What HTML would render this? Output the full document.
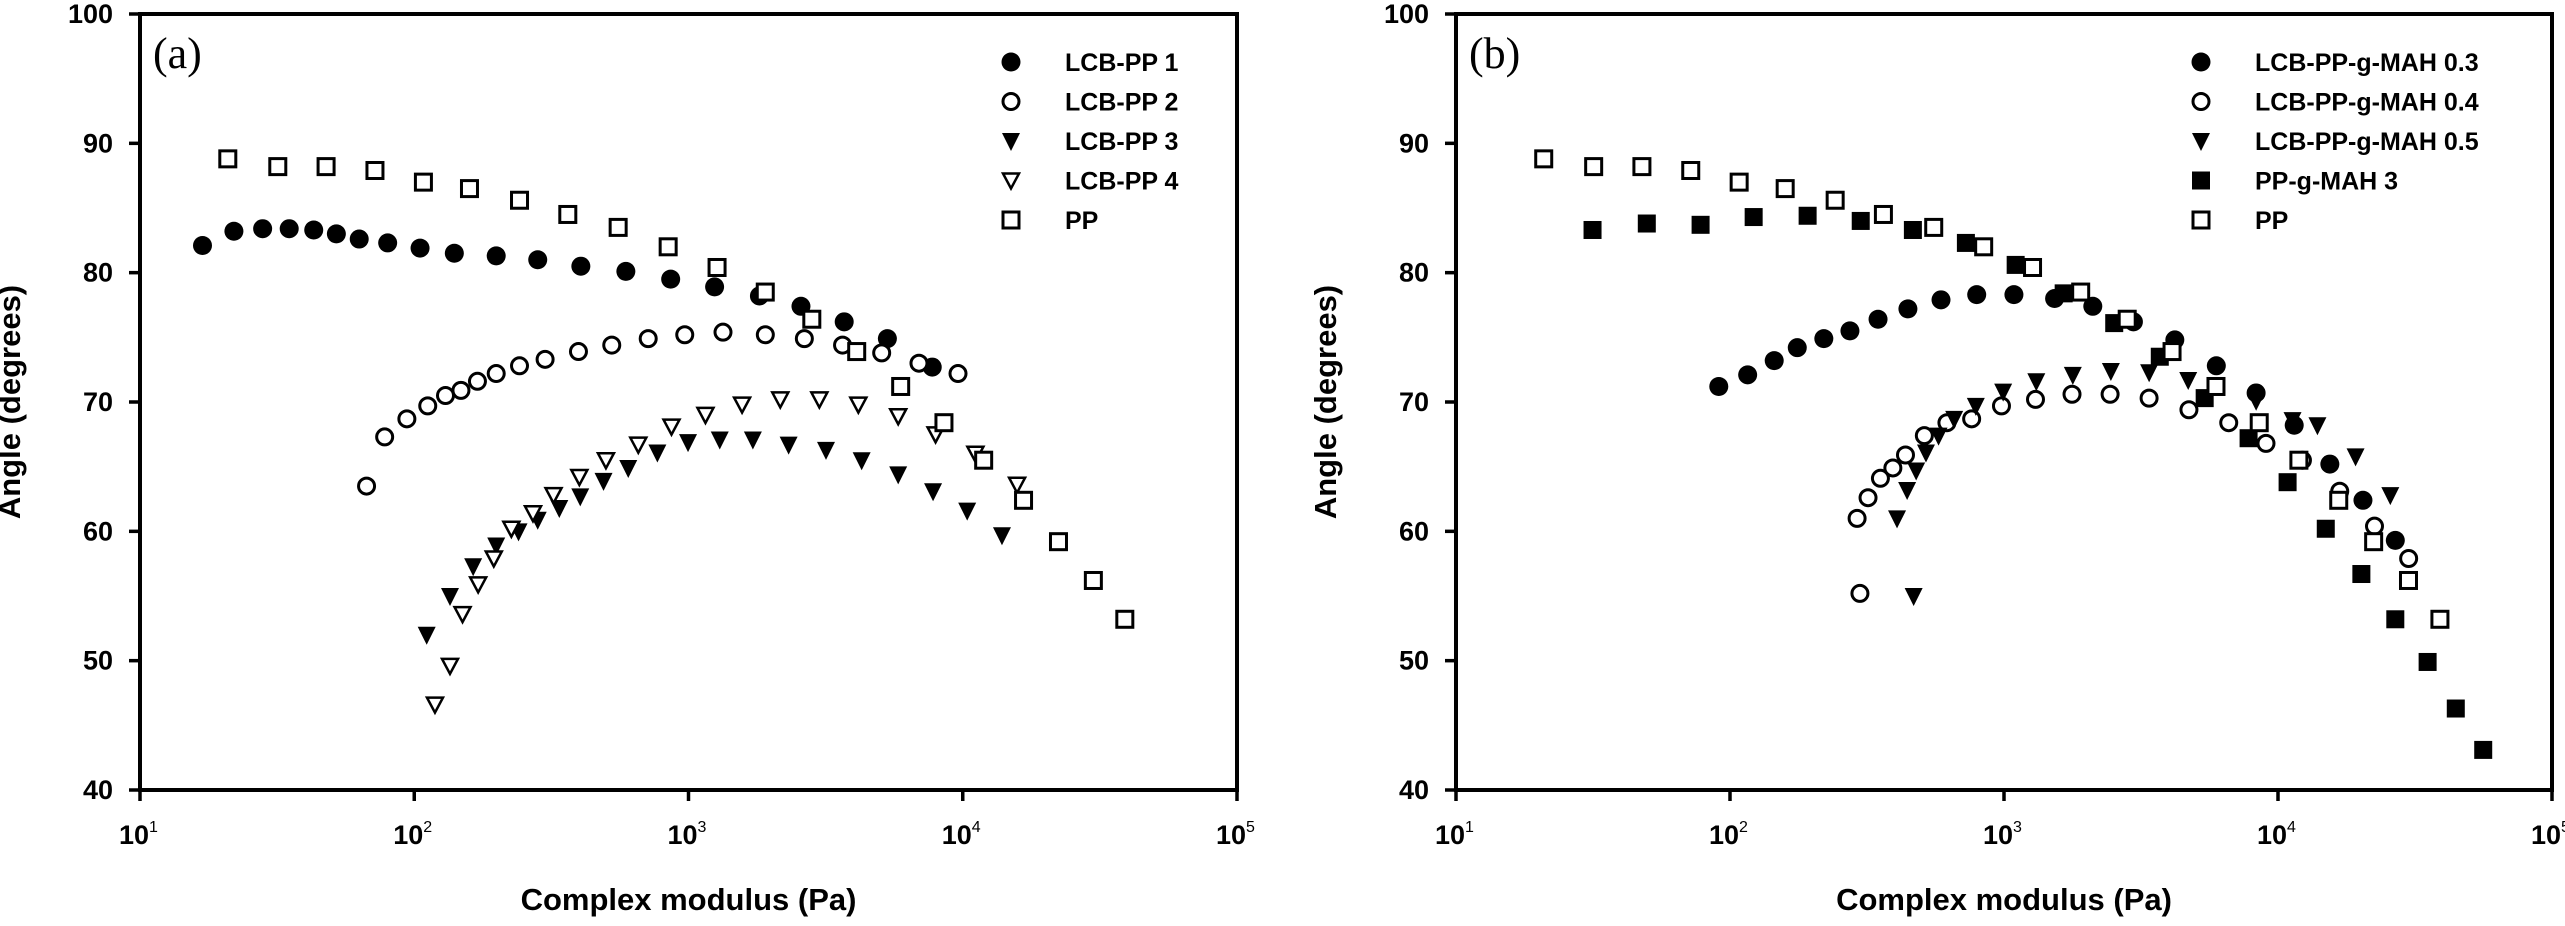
<!DOCTYPE html>
<html><head><meta charset="utf-8"><style>
html,body{margin:0;padding:0;background:#fff}
svg{display:block}
text{font-family:"Liberation Sans",Arial,sans-serif;font-weight:bold;fill:#000}
</style></head><body>
<svg id="fig" width="2565" height="926" viewBox="0 0 2565 926" xmlns="http://www.w3.org/2000/svg"></svg>
<script>
// ---- data (Pa, degrees) ----
const lcb1X=[16.9,22,28,35,43,52,63,80,105,140,199,282,405,591,861,1245,1814,2571,3696,5311,7740];
const lcb1Y=[82.1,83.2,83.4,83.4,83.3,83.0,82.6,82.3,81.9,81.5,81.3,81.0,80.5,80.1,79.5,78.9,78.2,77.4,76.2,74.9,72.7];
const lcb2X=[67,78,94,112,130,148,170,199,242,300,397,525,713,969,1336,1906,2645,3645,5063,6925,9610];
const lcb2Y=[63.5,67.3,68.7,69.7,70.5,70.9,71.6,72.2,72.8,73.3,73.9,74.4,74.9,75.2,75.4,75.2,74.9,74.4,73.8,73.0,72.2];
const lcb3X=[111,135,164,199,240,282,338,403,490,603,770,996,1300,1717,2318,3172,4279,5816,7794,10380,13900];
const lcb3Y=[52.0,55.0,57.3,58.9,60.0,60.9,61.8,62.7,63.9,64.9,66.1,66.9,67.1,67.1,66.7,66.3,65.5,64.4,63.1,61.6,59.7];
const lcb4X=[119,135,150,171,195,226,271,322,400,500,656,867,1153,1568,2161,3000,4162,5816,7960,11120,15780];
const lcb4Y=[46.6,49.6,53.6,55.9,57.9,60.2,61.4,62.8,64.2,65.5,66.7,68.1,69.0,69.8,70.2,70.2,69.8,68.9,67.5,66.0,63.6];
const ppX=[20.9,31.8,47.7,71.9,108,159,242,363,554,843,1271,1905,2816,4105,5938,8540,11920,16660,22340,29940,38990];
const ppY=[88.8,88.2,88.2,87.9,87.0,86.5,85.6,84.5,83.5,82.0,80.4,78.5,76.4,73.9,71.2,68.4,65.5,62.4,59.2,56.2,53.2];
const mah3X=[91,116,145,176,220,274,347,446,589,795,1087,1530,2109,2967,4202,5955,8320,11460,15460,20420,26800];
const mah3Y=[71.2,72.1,73.2,74.2,74.9,75.5,76.4,77.2,77.9,78.3,78.3,78.0,77.4,76.2,74.8,72.8,70.7,68.2,65.2,62.4,59.3];
const mah4X=[298,291,319,354,393,437,512,619,762,979,1303,1771,2439,3385,4731,6610,9040,12280,16800,22500,29980];
const mah4Y=[55.2,61.0,62.6,64.1,64.9,65.9,67.4,68.4,68.7,69.7,70.2,70.6,70.6,70.3,69.4,68.4,66.8,65.5,63.1,60.4,57.9];
const mah5X=[468,407,443,478,519,577,658,789,993,1312,1783,2455,3386,4702,8320,11300,13930,19190,25700];
const mah5Y=[55.0,61.0,63.2,64.7,66.1,67.4,68.7,69.7,70.8,71.6,72.1,72.4,72.3,71.7,70.1,68.6,68.2,65.8,62.8];
const ppmX=[31.5,49.7,78.1,122,192,300,465,726,1103,1651,2525,3703,5400,7810,10840,14940,20150,26800,35160,44550,56100];
const ppmY=[83.3,83.8,83.7,84.3,84.4,84.0,83.3,82.3,80.6,78.4,76.1,73.5,70.3,67.2,63.8,60.2,56.7,53.2,49.9,46.3,43.1];
const yTicks=[40,50,60,70,80,90,100];
const xExps=[1,2,3,4,5];
const legendA=["LCB-PP 1","LCB-PP 2","LCB-PP 3","LCB-PP 4","PP"];
const legendB=["LCB-PP-g-MAH 0.3","LCB-PP-g-MAH 0.4","LCB-PP-g-MAH 0.5","PP-g-MAH 3","PP"];

const NS="http://www.w3.org/2000/svg";
const svg=document.getElementById('fig');
function mk(tag,attrs,parent){const e=document.createElementNS(NS,tag);for(const k in attrs)e.setAttribute(k,attrs[k]);(parent||svg).appendChild(e);return e;}

function marker(g,type,cx,cy){
  let e;
  const r=8.5;
  if(type==='fc'){e=mk('circle',{cx:cx,cy:cy,r:r+1,fill:'#000'},g);}
  else if(type==='oc'){e=mk('circle',{cx:cx,cy:cy,r:r-0.5,fill:'#fff',stroke:'#000','stroke-width':3},g);}
  else if(type==='ft'){e=mk('polygon',{points:`${cx-9},${cy-8} ${cx+9},${cy-8} ${cx},${cy+10}`,fill:'#000'},g);}
  else if(type==='ot'){e=mk('polygon',{points:`${cx-8},${cy-7} ${cx+8},${cy-7} ${cx},${cy+8}`,fill:'#fff',stroke:'#000','stroke-width':2.5},g);}
  else if(type==='fs'){e=mk('rect',{x:cx-9,y:cy-9,width:18,height:18,fill:'#000'},g);}
  else {e=mk('rect',{x:cx-8,y:cy-8,width:16,height:16,fill:'#fff',stroke:'#000','stroke-width':3},g);}
  
  
  return e;
}

function panel(name,x0,x1,label,labX,series,legend,legMX,legTX){
  const y0=14,y1=790;
  const g=mk('g',{});
  
  
  const sx=v=>x0+(Math.log10(v)-1)/4*(x1-x0);
  const sy=v=>y1-(v-40)/60*(y1-y0);
  const frame=mk('rect',{x:x0,y:y0,width:x1-x0,height:y1-y0,fill:'none',stroke:'#000','stroke-width':4},g);
  
  
  yTicks.forEach(t=>{
    const y=sy(t);
    mk('line',{x1:x0-11,x2:x0,y1:y,y2:y,stroke:'#000','stroke-width':3.5},g);
    const tx=mk('text',{x:x0-27,y:y+9,'text-anchor':'end','font-size':27},g);
    tx.textContent=t;
    
    
  });
  xExps.forEach(p=>{
    const x=sx(Math.pow(10,p));
    mk('line',{x1:x,x2:x,y1:y1,y2:y1+11,stroke:'#000','stroke-width':3.5},g);
    const tx=mk('text',{x:x-6,y:y1+54,'text-anchor':'middle','font-size':27},g);
    tx.textContent='10';
    
    
    const sp=mk('text',{x:x+9,y:y1+42,'font-size':16,style:'font-weight:normal'},g);
    sp.textContent=String(p);
    
    
  });
  const xt=mk('text',{x:(x0+x1)/2,y:910,'text-anchor':'middle','font-size':31},g);
  xt.textContent='Complex modulus (Pa)';
  
  
  const yx=x0-120, yc=(y0+y1)/2;
  const yt=mk('text',{x:yx,y:yc,'text-anchor':'middle','font-size':31,transform:`rotate(-90 ${yx} ${yc})`},g);
  yt.textContent='Angle (degrees)';
  
  
  const pl=mk('text',{x:labX,y:68,'font-size':44,style:'font-weight:normal;font-family:"Liberation Serif",serif'},g);
  pl.textContent=label;
  
  
  series.forEach((s,i)=>{
    const sg=mk('g',{},g);
    
    
    s.x.forEach((xv,j)=>marker(sg,s.t,sx(xv),sy(s.y[j])));
    const ly=62+i*39.5;
    const lg=mk('g',{},g);
    
    
    marker(lg,s.t,legMX,ly);
    const lt=mk('text',{x:legTX,y:ly+9,'font-size':25},lg);
    lt.textContent=legend[i];
  });
}

panel('panel-a',140,1237,'(a)',153,[
  {x:lcb1X,y:lcb1Y,t:'fc'},{x:lcb2X,y:lcb2Y,t:'oc'},{x:lcb3X,y:lcb3Y,t:'ft'},{x:lcb4X,y:lcb4Y,t:'ot'},{x:ppX,y:ppY,t:'os'}
],legendA,1011,1065);
panel('panel-b',1456,2552,'(b)',1469,[
  {x:mah3X,y:mah3Y,t:'fc'},{x:mah4X,y:mah4Y,t:'oc'},{x:mah5X,y:mah5Y,t:'ft'},{x:ppmX,y:ppmY,t:'fs'},{x:ppX,y:ppY,t:'os'}
],legendB,2201,2255);
</script>
</body></html>
